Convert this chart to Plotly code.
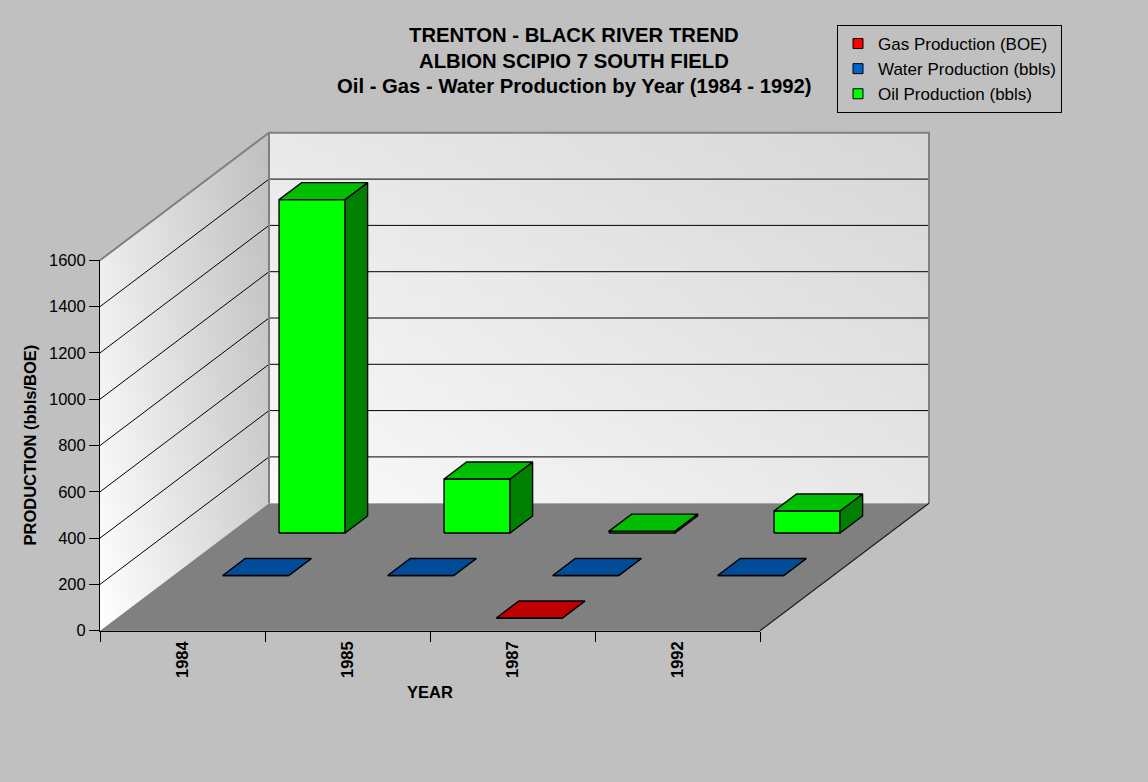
import plotly.graph_objects as go

# ---- data -------------------------------------------------------------
YEARS = ["1984", "1985", "1987", "1992"]
GAS_BOE = [None, None, 0, None]
WATER_BBLS = [0, 0, 0, 0]
OIL_BBLS = [1440, 233, 8, 95]
VALUE_TICKS = [0, 200, 400, 600, 800, 1000, 1200, 1400, 1600]

SERIES_NAMES = ["Gas Production (BOE)", "Water Production (bbls)", "Oil Production (bbls)"]
SERIES_VALUES = [GAS_BOE, WATER_BBLS, OIL_BBLS]      # front row -> back row
SERIES_COLORS = ["#FF0000", "#0066CC", "#00FF00"]

# ---- geometry of the oblique 3-D frame ---------------------------------
W, H = 1148, 782
ORIGIN_PX = (100.0, 630.7)      # pixel of (left category edge, value 0, front)
CAT_PX = 165.0                  # pixels per category
UNIT_PX = 0.2315                # pixels per production unit
DEPTH_PX = (169.0, 127.5)       # screen shift from front to back of floor
GAP_WIDTH = 1.5
GAP_DEPTH = 1.5
WALL_TOP = VALUE_TICKS[-1]
N_CAT = len(YEARS)
N_ROWS = len(SERIES_VALUES)

DX = DEPTH_PX[0] / CAT_PX
DY = DEPTH_PX[1] / UNIT_PX
X_LEFT = -0.5
X_RIGHT = N_CAT - 0.5

FONT = "Liberation Sans, Arial, sans-serif"


def proj(x, v, d):
    """Oblique projection: category x, value v, depth fraction d."""
    return x + d * DX, v + d * DY


def shade(color, f):
    r, g, b = (int(color[i:i + 2], 16) for i in (1, 3, 5))
    return "#%02X%02X%02X" % (round(r * f), round(g * f), round(b * f))


def polys_xy(polys):
    xs, ys = [], []
    for pts in polys:
        pp = [proj(*p) for p in pts]
        pp.append(pp[0])
        xs += [p[0] for p in pp] + [None]
        ys += [p[1] for p in pp] + [None]
    return xs, ys


def lines_xy(segments):
    xs, ys = [], []
    for seg in segments:
        pp = [proj(*p) for p in seg]
        xs += [p[0] for p in pp] + [None]
        ys += [p[1] for p in pp] + [None]
    return xs, ys


fig = go.Figure()


def add_fill(polys, fillcolor=None, line_color="rgba(0,0,0,0)", line_width=0, gradient=None):
    xs, ys = polys_xy(polys)
    kw = dict(x=xs, y=ys, mode="lines", fill="toself",
              line=dict(color=line_color, width=line_width),
              hoverinfo="skip", showlegend=False)
    if gradient is not None:
        kw["fillgradient"] = gradient
    else:
        kw["fillcolor"] = fillcolor
    fig.add_trace(go.Scatter(**kw))


def add_lines(segments, color, width):
    xs, ys = lines_xy(segments)
    fig.add_trace(go.Scatter(x=xs, y=ys, mode="lines",
                             line=dict(color=color, width=width),
                             hoverinfo="skip", showlegend=False))


# floor
add_fill([[(X_LEFT, 0, 0), (X_RIGHT, 0, 0), (X_RIGHT, 0, 1), (X_LEFT, 0, 1)]],
         fillcolor="#808080")

# side wall (left) with light-to-grey shading
side = [[(X_LEFT, 0, 0), (X_LEFT, WALL_TOP, 0), (X_LEFT, WALL_TOP, 1), (X_LEFT, 0, 1)]]
add_fill(side, gradient=dict(type="horizontal",
                             colorscale=[[0, "#FFFFFF"], [1, "#D2D2D2"]]))
add_fill(side, gradient=dict(type="vertical",
                             colorscale=[[0, "rgba(0,0,0,0)"], [1, "rgba(0,0,0,0.09)"]]))

# back wall with soft diagonal shading
back = [[(X_LEFT, 0, 1), (X_RIGHT, 0, 1), (X_RIGHT, WALL_TOP, 1), (X_LEFT, WALL_TOP, 1)]]
add_fill(back, gradient=dict(type="horizontal",
                             colorscale=[[0, "#FAFAFA"], [1, "#E6E6E6"]]))
add_fill(back, gradient=dict(type="vertical",
                             colorscale=[[0, "rgba(0,0,0,0)"], [1, "rgba(0,0,0,0.07)"]]))

# gridlines on side and back walls
grid = []
for v in VALUE_TICKS[1:-1]:
    grid.append([(X_LEFT, v, 0), (X_LEFT, v, 1), (X_RIGHT, v, 1)])
add_lines(grid, "#000000", 1)

# wall borders and floor edge
add_lines([[(X_LEFT, WALL_TOP, 0), (X_LEFT, WALL_TOP, 1), (X_RIGHT, WALL_TOP, 1), (X_RIGHT, 0, 1)],
           [(X_LEFT, WALL_TOP, 1), (X_LEFT, 0, 1)]], "#808080", 2)
add_lines([[(X_RIGHT, 0, 0), (X_RIGHT, 0, 1)]], "#1A1A1A", 1.2)

# 3-D columns, drawn from the back row to the front row
bar_w = 1.0 / (1.0 + GAP_WIDTH)
row_d = 1.0 / N_ROWS
bar_d = row_d / (1.0 + GAP_DEPTH)
for r in reversed(range(N_ROWS)):
    values, color = SERIES_VALUES[r], SERIES_COLORS[r]
    d0 = r * row_d + (row_d - bar_d) / 2
    d1 = d0 + bar_d
    fronts, tops, sides = [], [], []
    for i, v in enumerate(values):
        if v is None:
            continue
        x0, x1 = i - bar_w / 2, i + bar_w / 2
        fronts.append([(x0, 0, d0), (x1, 0, d0), (x1, v, d0), (x0, v, d0)])
        sides.append([(x1, 0, d0), (x1, 0, d1), (x1, v, d1), (x1, v, d0)])
        tops.append([(x0, v, d0), (x1, v, d0), (x1, v, d1), (x0, v, d1)])
    if not fronts:
        continue
    add_fill(fronts, color, "#000000", 1.4)
    add_fill(sides, shade(color, 0.5), "#000000", 1.4)
    add_fill(tops, shade(color, 0.75), "#000000", 1.4)

# legend entries
for name, color in zip(SERIES_NAMES, SERIES_COLORS):
    fig.add_trace(go.Scatter(x=[None], y=[None], mode="markers", name=name,
                             marker=dict(symbol="square", size=10, color=color,
                                         line=dict(color="#000000", width=1)),
                             hoverinfo="skip", showlegend=True))

# empty trace so the axis subplot exists
fig.add_trace(go.Scatter(x=[None], y=[None], xaxis="x2", yaxis="y2",
                         showlegend=False, hoverinfo="skip"))

# main (hidden) axes mapped so that the frame lands at the chosen pixels
x_range = [X_LEFT - ORIGIN_PX[0] / CAT_PX, X_LEFT + (W - ORIGIN_PX[0]) / CAT_PX]
y_range = [-(H - ORIGIN_PX[1]) / UNIT_PX, ORIGIN_PX[1] / UNIT_PX]

axis_font = dict(family=FONT, size=16.5, color="#000000")

fig.update_layout(
    width=W, height=H,
    margin=dict(l=0, r=0, t=0, b=0),
    paper_bgcolor="#C0C0C0",
    plot_bgcolor="rgba(0,0,0,0)",
    font=dict(family=FONT, color="#000000"),
    hovermode=False,
    xaxis=dict(domain=[0, 1], range=x_range, visible=False, fixedrange=True),
    yaxis=dict(domain=[0, 1], range=y_range, visible=False, fixedrange=True),
    xaxis2=dict(
        domain=[ORIGIN_PX[0] / W, (ORIGIN_PX[0] + N_CAT * CAT_PX) / W],
        anchor="y2", range=[X_LEFT, X_RIGHT],
        tickmode="array", tickvals=list(range(N_CAT)), ticktext=YEARS,
        tickangle=-90, tickfont=dict(family=FONT, size=16.5, color="#000000", weight="bold"),
        ticks="outside", ticklen=3, tickcolor="rgba(0,0,0,0)",
        minor=dict(tickmode="array", tickvals=[i - 0.5 for i in range(N_CAT + 1)],
                   ticks="outside", ticklen=10, tickcolor="#000000", tickwidth=1),
        showline=True, linecolor="#000000", linewidth=1,
        showgrid=False, zeroline=False, fixedrange=True, automargin=False,
    ),
    yaxis2=dict(
        domain=[(H - ORIGIN_PX[1]) / H, (H - ORIGIN_PX[1] + WALL_TOP * UNIT_PX) / H],
        anchor="x2", range=[0, WALL_TOP],
        tickmode="array", tickvals=VALUE_TICKS,
        tickfont=axis_font,
        ticks="outside", ticklen=10, tickcolor="#000000", tickwidth=1,
        showline=True, linecolor="#000000", linewidth=1,
        showgrid=False, zeroline=False, fixedrange=True, automargin=False,
    ),
    legend=dict(
        x=837 / W, y=1 - 25 / H, xanchor="left", yanchor="top",
        bgcolor="#C0C0C0", bordercolor="#000000", borderwidth=1,
        font=dict(family=FONT, size=17, color="#000000"),
        traceorder="normal",
    ),
)

title_font = dict(family=FONT, size=20.3, color="#000000", weight="bold")
title_lines = ["TRENTON - BLACK RIVER TREND",
               "ALBION SCIPIO 7 SOUTH FIELD",
               "Oil - Gas - Water Production by Year (1984 - 1992)"]
for k, line in enumerate(title_lines):
    fig.add_annotation(text=line, xref="paper", yref="paper",
                       x=574 / W, y=1 - (35 + 25.7 * k) / H,
                       xanchor="center", yanchor="middle",
                       showarrow=False, font=title_font)

fig.add_annotation(text="PRODUCTION (bbls/BOE)", xref="paper", yref="y2",
                   x=30 / W, y=WALL_TOP / 2, textangle=-90,
                   xanchor="center", yanchor="middle", showarrow=False,
                   font=dict(family=FONT, size=16.5, color="#000000", weight="bold"))
fig.add_annotation(text="YEAR", xref="x2", yref="paper",
                   x=(X_LEFT + X_RIGHT) / 2, y=1 - 692 / H,
                   xanchor="center", yanchor="middle", showarrow=False,
                   font=dict(family=FONT, size=16.5, color="#000000", weight="bold"))

fig.write_html("out.html")
